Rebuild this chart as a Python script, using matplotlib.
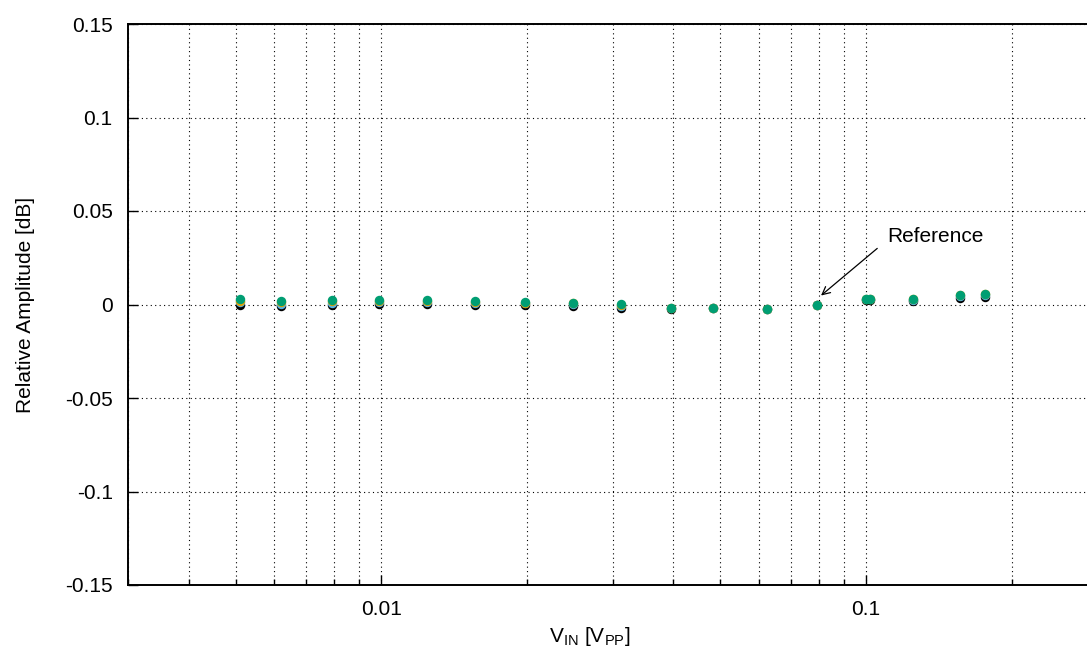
import numpy as np
import matplotlib.pyplot as plt
from matplotlib.ticker import LogLocator, NullFormatter, FixedLocator

plt.rcParams['font.family'] = ['Liberation Sans', 'DejaVu Sans']

# input level [Vpp]
vin = [0.0051, 0.0062, 0.0079, 0.0099, 0.0124, 0.0156, 0.0198, 0.0249, 0.0312,
       0.0396, 0.0482, 0.0624, 0.0791, 0.0999, 0.1019, 0.1249, 0.1562, 0.1762]
# relative amplitude [dB], four channels
ch_black = [0.0000, -0.0007, 0.0000, 0.0003, 0.0003, -0.0003, -0.0003, -0.0007, -0.0018,
            -0.0022, -0.0019, -0.0026, 0.0000, 0.0025, 0.0024, 0.0020, 0.0036, 0.0039]
ch_blue = [0.0012, 0.0004, 0.0010, 0.0012, 0.0012, 0.0008, 0.0006, 0.0002, -0.0006,
           -0.0021, -0.0018, -0.0025, 0.0000, 0.0030, 0.0030, 0.0026, 0.0046, 0.0049]
ch_orange = [0.0020, 0.0012, 0.0018, 0.0019, 0.0019, 0.0015, 0.0010, 0.0006, 0.0000,
             -0.0021, -0.0018, -0.0025, 0.0000, 0.0028, 0.0028, 0.0028, 0.0050, 0.0054]
ch_green = [0.0028, 0.0018, 0.0025, 0.0025, 0.0025, 0.0021, 0.0014, 0.0010, 0.0003,
            -0.0021, -0.0018, -0.0025, 0.0000, 0.0031, 0.0031, 0.0031, 0.0053, 0.0057]

series = [(ch_black, 'black'), (ch_blue, '#56B4E9'), (ch_orange, '#E69F00'), (ch_green, '#009E73')]

fs = 15

fig = plt.figure(figsize=(10.87, 6.55), dpi=100)
# axes run past the right edge of the picture (cropped plot)
ax = fig.add_axes([128 / 1087, 70 / 655, (1158 - 128) / 1087, 561 / 655])

for vals, c in series:
    ax.plot(vin, vals, 'o', color=c, ms=6.8, mec='none')

ax.set_xscale('log')
ax.set_xlim(0.003, 0.4)
ax.set_ylim(-0.15, 0.15)
ax.xaxis.set_major_locator(FixedLocator([0.01, 0.1]))
ax.xaxis.set_minor_locator(LogLocator(base=10, subs=np.arange(2, 10)))
ax.xaxis.set_minor_formatter(NullFormatter())
ax.set_xticklabels(['0.01', '0.1'])
ax.set_yticks([-0.15, -0.1, -0.05, 0, 0.05, 0.1, 0.15])
ax.set_yticklabels(['-0.15', '-0.1', '-0.05', '0', '0.05', '0.1', '0.15'])

ax.grid(which='both', axis='x', ls=(0, (1, 3)), color='black', lw=0.8)
ax.grid(which='major', axis='y', ls=(0, (1, 3)), color='black', lw=0.8)
ax.set_axisbelow(True)

ax.tick_params(which='both', direction='in', labelsize=fs, color='black')
ax.tick_params(which='major', length=7, width=1, pad=11)
ax.tick_params(which='minor', length=4, width=1)
for s in ax.spines.values():
    s.set_linewidth(1.4)

ax.set_xlabel(r'V$_\mathregular{IN}$ [V$_\mathregular{PP}$]', fontsize=fs)
ax.xaxis.set_label_coords((590 - 128) / (1158 - 128), -0.072)
ax.set_ylabel('Relative Amplitude [dB]', fontsize=fs)
ax.yaxis.set_label_coords(-0.09, 0.5)

ax.text(0.1105, 0.0364, 'Reference', fontsize=fs, va='center', ha='left')
ax.annotate('', xy=(0.0807, 0.0048), xytext=(0.1054, 0.030),
            arrowprops=dict(arrowstyle='->', color='black', lw=0.9,
                            shrinkA=0, shrinkB=0, mutation_scale=14))

fig.savefig('out.png', dpi=100)
